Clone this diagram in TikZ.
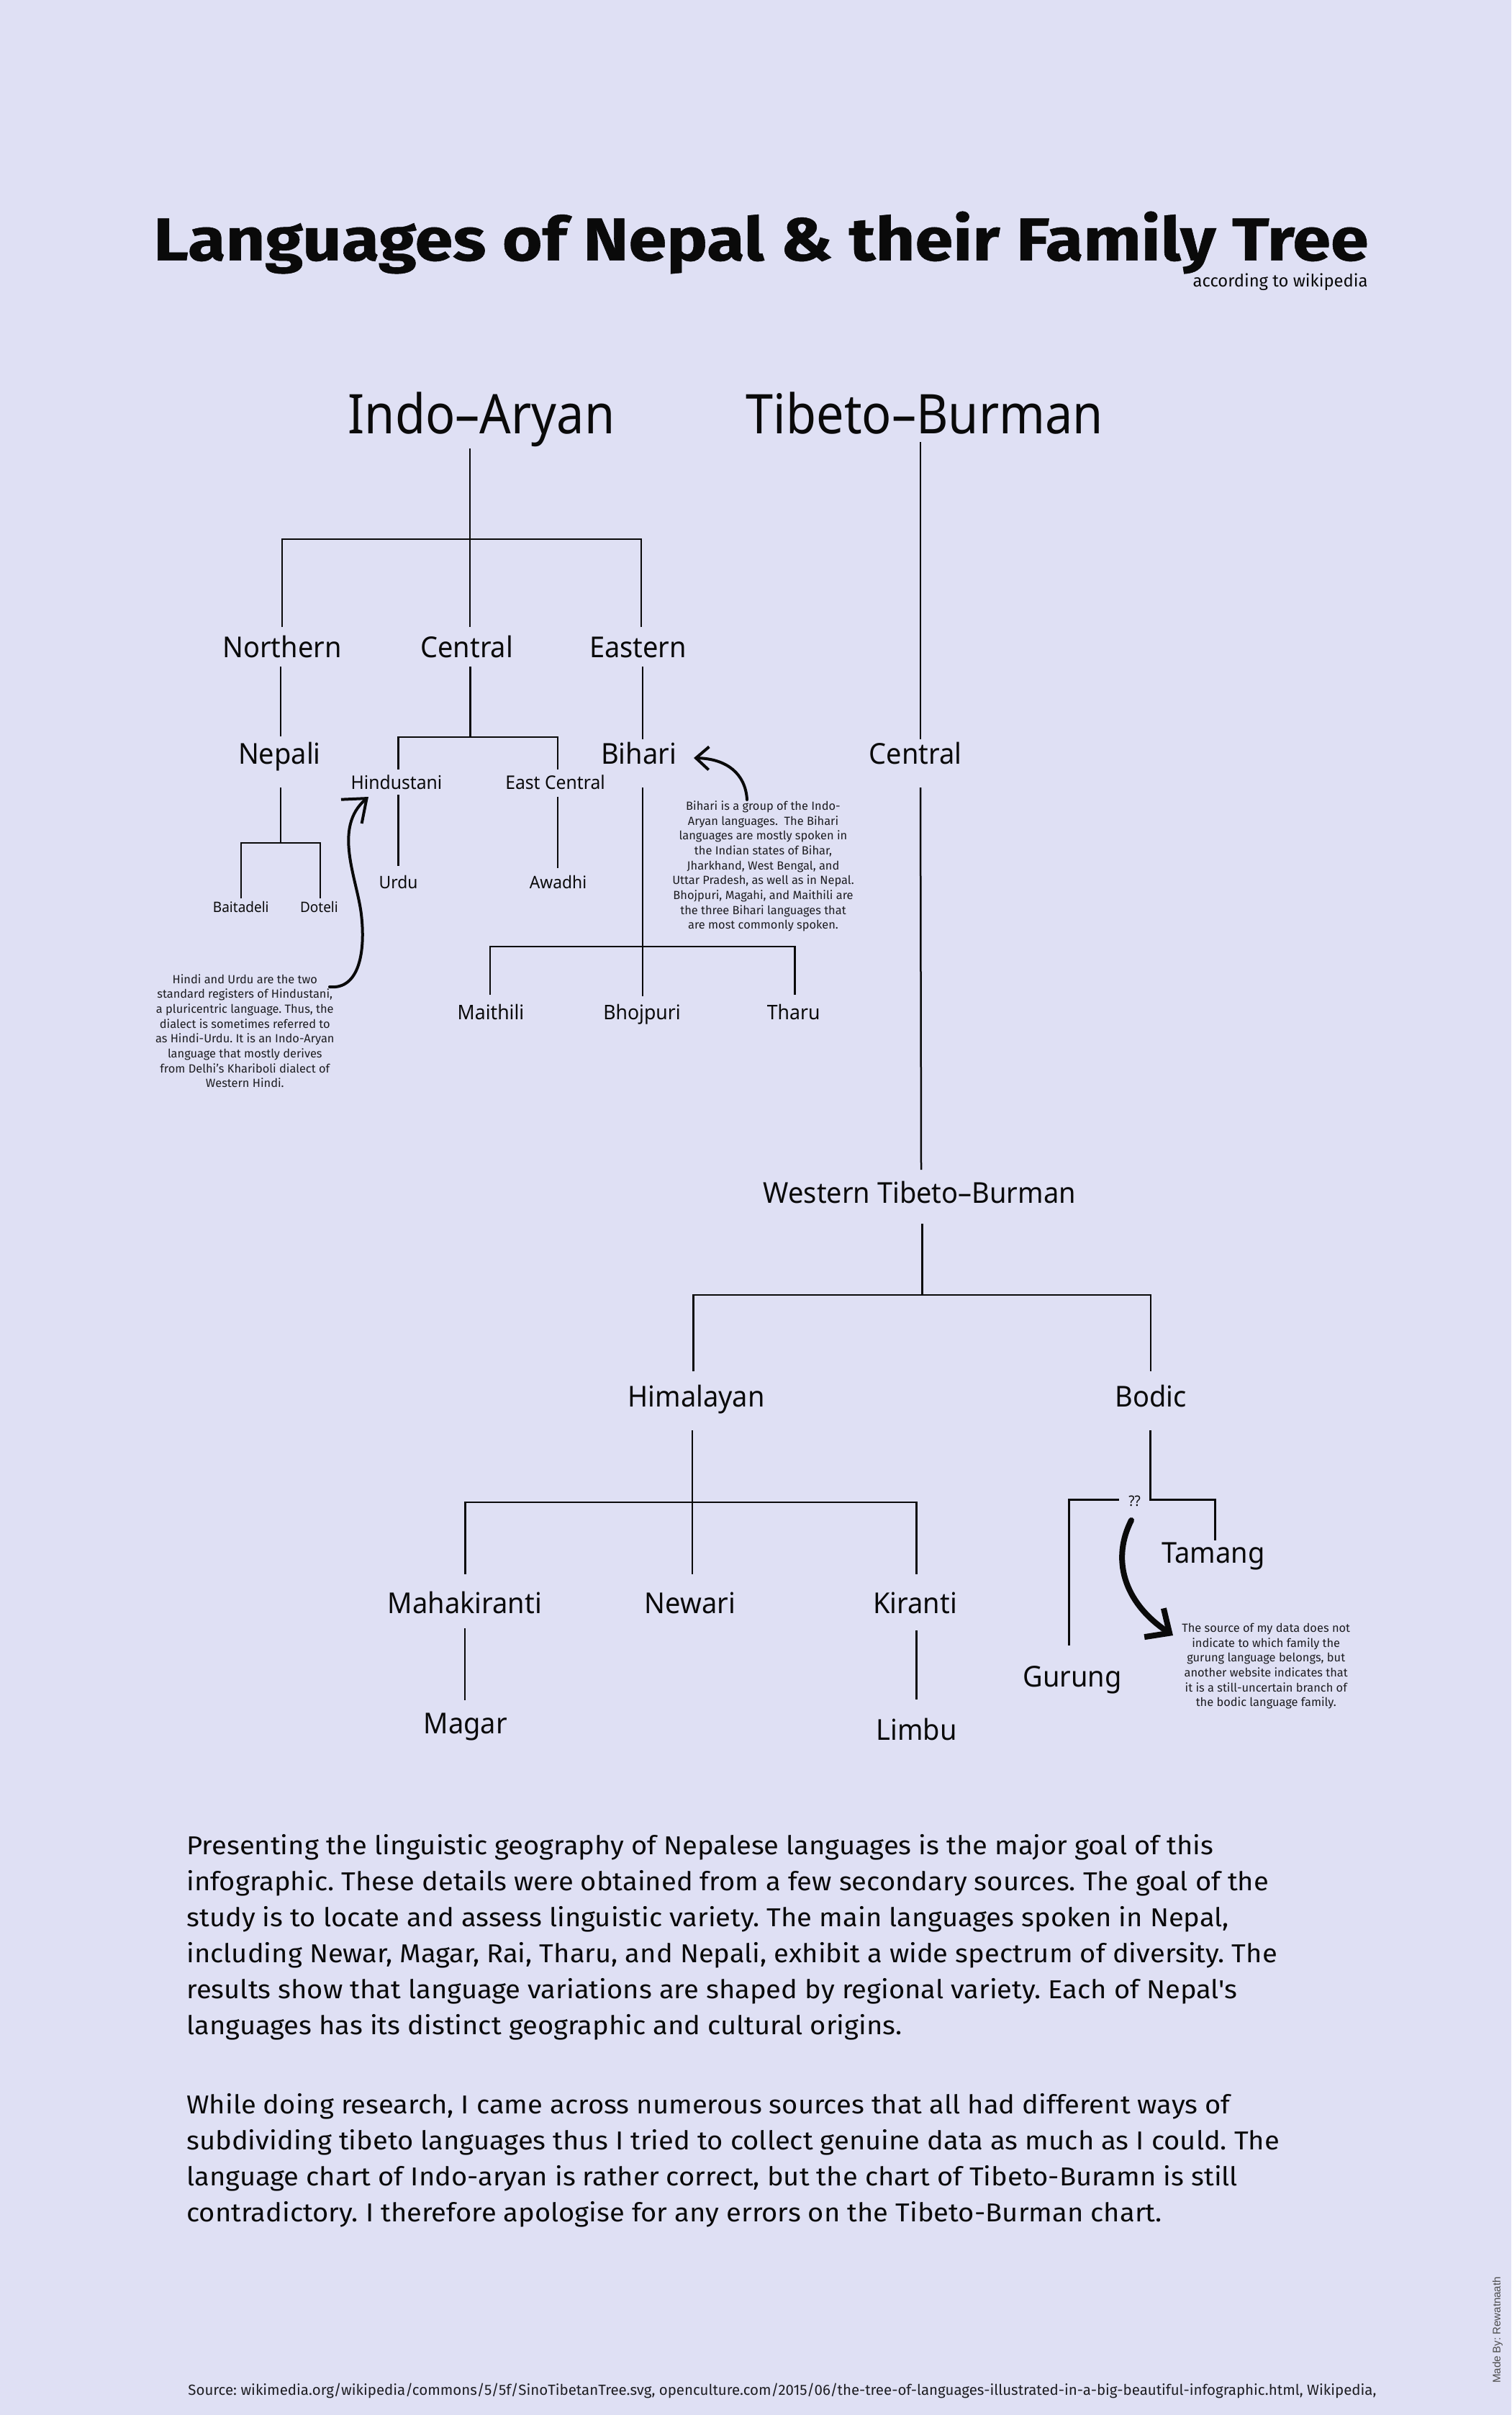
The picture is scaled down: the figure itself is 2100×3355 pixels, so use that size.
\documentclass[tikz,border=0pt]{standalone}
\usepackage{fontspec}
\usepackage{graphicx}
\setmainfont{Fira Sans}
\newfontfamily\titlefont{Fira Sans}[BoldFeatures={FakeBold=0.6}]
\newfontfamily\treefont{Noto Sans}[FakeStretch=0.95]
\newfontfamily\headfont{Noto Sans}[FakeStretch=0.9]
\newfontfamily\parafont{Fira Sans}[FakeStretch=1.06]
\newfontfamily\madefont{Liberation Sans}
\usetikzlibrary{arrows.meta}
\definecolor{bg}{RGB}{223,224,244}
\definecolor{ink}{RGB}{10,10,10}
\definecolor{noteink}{RGB}{30,30,34}
\newcommand\mylinesC[1]{\begin{tabular}[t]{@{}c@{}}#1\end{tabular}}
\newcommand\mylinesL[1]{\begin{tabular}[t]{@{}l@{}}#1\end{tabular}}
\frenchspacing
\begin{document}
\begin{tikzpicture}[x=0.5pt,y=-0.5pt,
  lbl/.style={inner sep=0pt, anchor=base, text=ink, font=\treefont\fontsize{20pt}{24pt}\selectfont},
  biglbl/.style={lbl, font=\headfont\fontsize{38pt}{44pt}\selectfont},
  lbla/.style={lbl, font=\treefont\fontsize{13pt}{16pt}\selectfont},
  lblb/.style={lbl, font=\treefont\fontsize{12pt}{15pt}\selectfont},
  lblc/.style={lbl, font=\treefont\fontsize{10pt}{12pt}\selectfont},
  lbld/.style={lbl, font=\treefont\fontsize{14pt}{17pt}\selectfont},
  note/.style={inner sep=0pt, anchor=base, text=noteink, font=\fontsize{8.2pt}{10.35pt}\selectfont},
  para/.style={inner sep=0pt, anchor=base west, text=ink, font=\parafont\fontsize{18pt}{25pt}\selectfont},
  branch/.style={line width=1.25pt, draw=ink},
  callout/.style={line width=2pt, draw=ink, line cap=round, -{Straight Barb[length=14pt,width=22pt]}},
]
\fill[bg] (0,0) rectangle (2100,3355);
\useasboundingbox (0,0) rectangle (2100,3355);

% title
\node[inner sep=0pt, anchor=base west, text=ink] (title) at (212.7,361.7)
  {\resizebox{844pt}{34pt}{\titlefont\bfseries Languages of Nepal \& their Family Tree}};
\node[inner sep=0pt, anchor=base east, text=ink] (sub) at (1901,398)
  {\resizebox{121.5pt}{!}{according to wikipedia}};

% headlines
\node[biglbl] (ia) at (669,602.7) {Indo–Aryan};
\node[biglbl] (tb) at (1285,602.7) {Tibeto–Burman};

% Indo-Aryan tree labels
\node[lbl] (north) at (392,913) {Northern};
\node[lbl] (cent) at (648.7,913) {Central};
\node[lbl] (east) at (886.5,913) {Eastern};
\node[lbl] (nepali) at (388.4,1061.7) {Nepali};
\node[lbl] (bihari) at (887.5,1061.7) {Bihari};
\node[lbla] (hind) at (551,1096.7) {Hindustani};
\node[lbla] (ec) at (771.5,1096.7) {East Central};
\node[lblb] (urdu) at (553.6,1234.3) {Urdu};
\node[lblb] (awadhi) at (775.5,1234.3) {Awadhi};
\node[lblc] (bait) at (334.8,1267.3) {Baitadeli};
\node[lblc] (doteli) at (443.4,1267.3) {Doteli};
\node[lbld] (maith) at (682,1416.7) {Maithili};
\node[lbld] (bhoj) at (892,1416.7) {Bhojpuri};
\node[lbld] (tharu) at (1102.7,1416.7) {Tharu};

% Tibeto-Burman tree labels
\node[lbl] (tbc) at (1272,1061.7) {Central};
\node[lbl] (wtb) at (1277.8,1671.7) {Western Tibeto–Burman};
\node[lbl] (him) at (967.6,1954) {Himalayan};
\node[lbl] (bodic) at (1599,1954) {Bodic};
\node[lbl] (maha) at (645.8,2241.7) {Mahakiranti};
\node[lbl] (newari) at (959,2241.7) {Newari};
\node[lbl] (kir) at (1271.6,2241.7) {Kiranti};
\node[lbl] (magar) at (646.7,2408.3) {Magar};
\node[lbl] (limbu) at (1273.7,2417) {Limbu};
\node[lbl] (tamang) at (1686,2171.7) {Tamang};
\node[lbl] (gurung) at (1490,2343.3) {Gurung};
\node[lblc] (qq) at (1576.7,2092) {??};

% connector coordinates
\coordinate (iaB) at (653,623);   \coordinate (iaJ) at (653,749);
\coordinate (northT) at (392,871); \coordinate (centT) at (653,871); \coordinate (eastT) at (891,871);
\coordinate (northB) at (390,926); \coordinate (nepaliT) at (390,1023);
\coordinate (centB) at (653.6,926); \coordinate (centJ) at (653.6,1024);
\coordinate (hindT) at (553.6,1069); \coordinate (ecT) at (775,1069);
\coordinate (eastB) at (892.9,926); \coordinate (bihariT) at (892.9,1027);
\coordinate (nepaliB) at (390,1094); \coordinate (nepaliJ) at (390,1171);
\coordinate (baitT) at (335,1248); \coordinate (dotT) at (445,1248);
\coordinate (hindB) at (553.6,1104); \coordinate (urduT) at (553.6,1203);
\coordinate (ecB) at (775,1107); \coordinate (awadhiT) at (775,1206);
\coordinate (bihariB) at (892.9,1094); \coordinate (bihariJ) at (892.9,1315); \coordinate (bhojT) at (892.9,1384);
\coordinate (maithT) at (681,1382); \coordinate (tharuT) at (1104.5,1382);
\coordinate (tbB) at (1279,614); \coordinate (tbcT) at (1279,1027);
\coordinate (tbcB) at (1279,1094); \coordinate (wtbT) at (1280,1625);
\coordinate (wtbB) at (1281.7,1700); \coordinate (wtbJ) at (1281.7,1799);
\coordinate (himT) at (963.3,1905); \coordinate (bodicT) at (1599,1905);
\coordinate (himB) at (962,1987); \coordinate (himJ) at (962,2087); \coordinate (newariT) at (962,2187);
\coordinate (mahaT) at (646.5,2187); \coordinate (kirT) at (1273.7,2187);
\coordinate (mahaB) at (646,2262); \coordinate (magarT) at (646,2362);
\coordinate (kirB) at (1273.7,2265); \coordinate (limbuT) at (1273.7,2361);
\coordinate (bodicB) at (1598.3,1987); \coordinate (bodicJ) at (1598.3,2083.3);
\coordinate (tamangT) at (1688.3,2140);
\coordinate (qqW) at (1555,2083.3); \coordinate (gurungT) at (1485.6,2286);

% Indo-Aryan connectors
\draw[branch] (iaB) -- (centT);
\draw[branch] (northT) -- (northT |- iaJ) -- (eastT |- iaJ) -- (eastT);
\draw[branch] (northB) -- (nepaliT);
\draw[branch] (centB) -- (centJ);
\draw[branch] (hindT) -- (hindT |- centJ) -- (ecT |- centJ) -- (ecT);
\draw[branch] (eastB) -- (bihariT);
\draw[branch] (nepaliB) -- (nepaliJ);
\draw[branch] (baitT) -- (baitT |- nepaliJ) -- (dotT |- nepaliJ) -- (dotT);
\draw[branch] (hindB) -- (urduT);
\draw[branch] (ecB) -- (awadhiT);
\draw[branch] (bihariB) -- (bhojT);
\draw[branch] (maithT) -- (maithT |- bihariJ) -- (tharuT |- bihariJ) -- (tharuT);

% Tibeto-Burman connectors
\draw[branch] (tbB) -- (tbcT);
\draw[branch] (tbcB) -- (wtbT);
\draw[branch] (wtbB) -- (wtbJ);
\draw[branch] (himT) -- (himT |- wtbJ) -- (bodicT |- wtbJ) -- (bodicT);
\draw[branch] (himB) -- (newariT);
\draw[branch] (mahaT) -- (mahaT |- himJ) -- (kirT |- himJ) -- (kirT);
\draw[branch] (mahaB) -- (magarT);
\draw[branch] (kirB) -- (limbuT);
\draw[branch] (bodicB) -- (bodicJ) -- (tamangT |- bodicJ) -- (tamangT);
\draw[branch] (qqW) -- (gurungT |- qqW) -- (gurungT);

% annotations
\node[note] (bnote) at (1060.5,1125.3) {\mylinesC{Bihari is a group of the Indo-\\Aryan languages.\ \ The Bihari\\languages are mostly spoken in\\the Indian states of Bihar,\\Jharkhand, West Bengal, and\\Uttar Pradesh, as well as in Nepal.\\Bhojpuri, Magahi, and Maithili are\\the three Bihari languages that\\are most commonly spoken.}};
\node[note] (hnote) at (340.3,1366) {\mylinesC{Hindi and Urdu are the two\\standard registers of Hindustani,\\a pluricentric language. Thus, the\\dialect is sometimes referred to\\as Hindi-Urdu. It is an Indo-Aryan\\language that mostly derives\\from Delhi's Khariboli dialect of\\Western Hindi.}};
\node[note] (gnote) at (1759.2,2267.3) {\mylinesC{The source of my data does not\\indicate to which family the\\gurung language belongs, but\\another website indicates that\\it is a still-uncertain branch of\\the bodic language family.}};

% callout arrows
\coordinate (bS) at (1038,1111); \coordinate (bE) at (964,1053);
\draw[callout, -{Straight Barb[length=9pt,width=16pt]}] (bS) .. controls (1036,1075) and (1010,1054) .. (bE);
\coordinate (hS) at (458,1371); \coordinate (hM) at (502,1270); \coordinate (hE) at (512,1107);
\draw[callout] (hS) .. controls (500,1375) and (508,1320) .. (hM) .. controls (496,1220) and (462,1150) .. (hE);
\coordinate (gS) at (1572,2112); \coordinate (gE) at (1630,2272);
\draw[callout, line width=4pt, -{Straight Barb[length=13pt,width=24pt]}] (gS) .. controls (1545,2165) and (1560,2225) .. (gE);

% paragraphs
\node[para] (p1) at (259,2576.7) {\mylinesL{Presenting the linguistic geography of Nepalese languages is the major goal of this\\infographic. These details were obtained from a few secondary sources. The goal of the\\study is to locate and assess linguistic variety. The main languages spoken in Nepal,\\including Newar, Magar, Rai, Tharu, and Nepali, exhibit a wide spectrum of diversity. The\\results show that language variations are shaped by regional variety. Each of Nepal's\\languages has its distinct geographic and cultural origins.}};
\node[para] (p2) at (259,2936.3) {\mylinesL{While doing research, I came across numerous sources that all had different ways of\\subdividing tibeto languages thus I tried to collect genuine data as much as I could. The\\language chart of Indo-aryan is rather correct, but the chart of Tibeto-Buramn is still\\contradictory. I therefore apologise for any errors on the Tibeto-Burman chart.}};

% source and credit
\node[inner sep=0pt, anchor=base west, text=noteink] (src) at (261,3327)
  {\resizebox{825.5pt}{!}{Source: wikimedia.org/wikipedia/commons/5/5f/SinoTibetanTree.svg, openculture.com/2015/06/the-tree-of-languages-illustrated-in-a-big-beautiful-infographic.html, Wikipedia,}};
\node[inner sep=0pt, rotate=90, text=black!70, font=\madefont\fontsize{7.5pt}{9pt}\selectfont] (made) at (2081,3237) {Made By: Rewatnaath};
\end{tikzpicture}
\end{document}
